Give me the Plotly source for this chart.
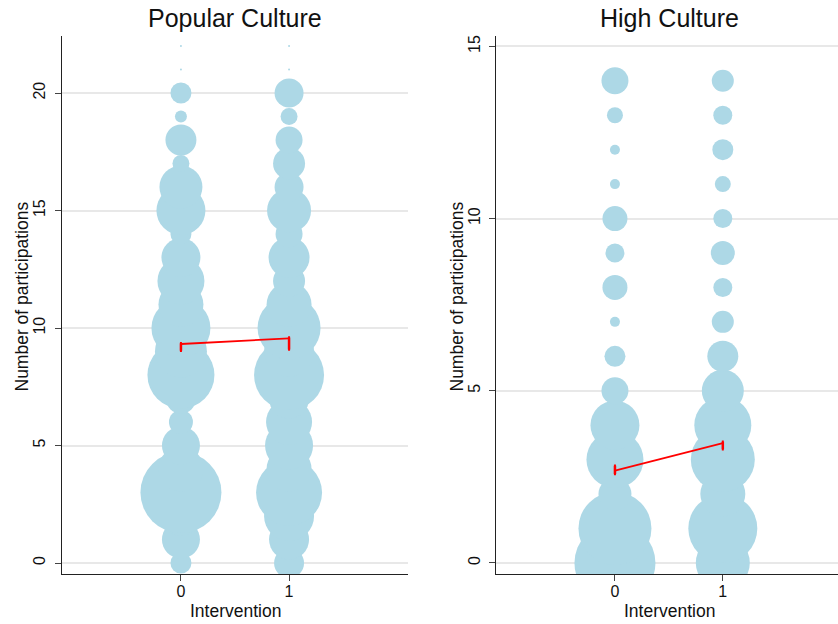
import plotly.graph_objects as go

# ---------------- data ----------------
# Popular culture: number of participations (0..22) and respondent counts per intervention group
pop_levels = list(range(0, 23))
pop_count_g0 = [110, 361, 400, 1640, 506, 361, 144, 225, 1122, 676, 870, 506, 552, 380, 110, 600, 462, 72, 240, 36, 110, 1, 1]
pop_count_g1 = [225, 400, 625, 1089, 506, 576, 529, 400, 1225, 625, 992, 506, 256, 420, 182, 484, 210, 256, 182, 72, 210, 1, 1]

# High culture: number of participations (0..14)
high_levels = list(range(0, 15))
high_count_g0 = [1640, 1332, 272, 812, 600, 182, 110, 25, 156, 90, 156, 25, 25, 64, 182]
high_count_g1 = [729, 1190, 506, 1024, 812, 441, 240, 121, 90, 144, 90, 64, 110, 90, 121]

groups = [0, 1]
# means and confidence bounds per group
pop_mean = [9.32, 9.56]
pop_lo = [9.03, 9.09]
pop_hi = [9.35, 9.60]
high_mean = [2.68, 3.48]
high_lo = [2.58, 3.30]
high_hi = [2.82, 3.52]

pop_yticks = [0, 5, 10, 15, 20]
high_yticks = [0, 5, 10, 15]
x_ticks = [0, 1]

# ---------------- figure ----------------
W, H = 838, 624
BUBBLE = "#ADD8E6"
FONT = "Liberation Sans, Arial, sans-serif"
TXT = "#111111"

fig = go.Figure()


def add_panel(levels, c0, c1, mean, lo, hi, xa, ya):
    for g, counts in zip(groups, [c0, c1]):
        fig.add_trace(go.Scatter(
            x=[g] * len(levels), y=levels, mode="markers",
            marker=dict(size=counts, sizemode="area", sizeref=0.5, sizemin=0,
                        color=BUBBLE, line=dict(width=0), opacity=1),
            xaxis=xa, yaxis=ya, showlegend=False, hoverinfo="skip"))
    fig.add_trace(go.Scatter(
        x=groups, y=mean, mode="lines",
        line=dict(color="red", width=1.8),
        xaxis=xa, yaxis=ya, showlegend=False, hoverinfo="skip"))
    fig.add_trace(go.Scatter(
        x=groups, y=mean, mode="markers",
        marker=dict(size=1, color="red", opacity=0),
        error_y=dict(type="data", symmetric=False,
                     array=[h - m for h, m in zip(hi, mean)],
                     arrayminus=[m - l for m, l in zip(mean, lo)],
                     color="red", thickness=2.5, width=1),
        xaxis=xa, yaxis=ya, showlegend=False, hoverinfo="skip"))


add_panel(pop_levels, pop_count_g0, pop_count_g1, pop_mean, pop_lo, pop_hi, "x", "y")
add_panel(high_levels, high_count_g0, high_count_g1, high_mean, high_lo, high_hi, "x2", "y2")

ydom = [1 - 574.3 / H, 1 - 35.7 / H]
axis_common = dict(showline=True, linecolor="#222222", linewidth=1.3, ticks="outside",
                   ticklen=6, tickcolor="#444444", tickwidth=1.2,
                   tickfont=dict(family=FONT, size=16, color=TXT), zeroline=False)

xcommon = dict(axis_common, showgrid=False, tickvals=x_ticks, ticklabelstandoff=-4)
ycommon = dict(axis_common, showgrid=True, gridcolor="#e8e8e8", gridwidth=1.5, tickangle=-90,
               ticklabelstandoff=3)


def ann(text, xpx, ypx, size, angle=0):
    return dict(text=text, x=xpx / W, y=1 - ypx / H, xref="paper", yref="paper",
                xanchor="center", yanchor="middle", showarrow=False, textangle=angle,
                font=dict(family=FONT, size=size, color=TXT))


fig.update_layout(
    width=W, height=H, margin=dict(l=0, r=0, t=0, b=0),
    paper_bgcolor="white", plot_bgcolor="white",
    xaxis=dict(xcommon, domain=[62 / W, 408 / W], range=[-1.1, 2.1], anchor="y"),
    yaxis=dict(ycommon, domain=ydom, range=[-0.48, 22.44], tickvals=pop_yticks, anchor="x"),
    xaxis2=dict(xcommon, domain=[496.3 / W, 1.0], range=[-1.1, 2.068], anchor="y2"),
    yaxis2=dict(ycommon, domain=ydom, range=[-0.33, 15.31], tickvals=high_yticks, anchor="x2"),
    annotations=[
        ann("Popular Culture", 235, 17.5, 25),
        ann("High Culture", 669, 17.5, 25),
        ann("Number of participations", 21, 296.5, 17.5, -90),
        ann("Number of participations", 456, 296.5, 17.5, -90),
        ann("Intervention", 235, 611, 17.5),
        ann("Intervention", 669, 611, 17.5),
    ],
)

# remove the default 8px page margin so the figure fills the window exactly
fig.write_html("out.html", config={"displayModeBar": False},
               post_script="document.body.style.margin='0';")
